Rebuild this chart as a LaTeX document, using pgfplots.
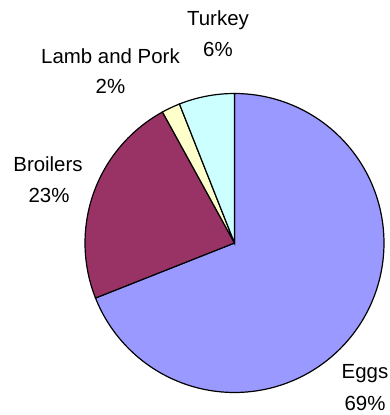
\documentclass[border=0pt]{standalone}
\usepackage{pgfplots}
\pgfplotsset{compat=1.18}
\usepackage{fontspec}
\setmainfont{Liberation Sans}
\definecolor{eggs}{HTML}{9999FF}
\definecolor{broilers}{HTML}{993366}
\definecolor{lamb}{HTML}{FFFFCC}
\definecolor{turkey}{HTML}{CCFFFF}
\newcommand{\cx}{234.5}
\newcommand{\cy}{172}
\newcommand{\rr}{149.5}
% shares: Eggs 69, Broilers 23, Lamb and Pork 2, Turkey 6 (clockwise from 12 o'clock)
\begin{document}
\begin{tikzpicture}[lbl/.style={font=\fontsize{20.5}{24}\selectfont, anchor=base, inner sep=0pt}]
\begin{axis}[
  width=390bp, height=415bp, scale only axis,
  xmin=0, xmax=390, ymin=0, ymax=415,
  hide axis, clip=false,
]
\addplot[draw=black, line width=1.2pt, fill=eggs, domain=-158.4:90, samples=150, variable=\t]
  ({\cx+\rr*cos(\t)},{\cy+\rr*sin(\t)}) -- (axis cs:\cx,\cy) -- cycle;
\addplot[draw=black, line width=1.2pt, fill=broilers, domain=118.8:201.6, samples=60, variable=\t]
  ({\cx+\rr*cos(\t)},{\cy+\rr*sin(\t)}) -- (axis cs:\cx,\cy) -- cycle;
\addplot[draw=black, line width=1.2pt, fill=lamb, domain=111.6:118.8, samples=10, variable=\t]
  ({\cx+\rr*cos(\t)},{\cy+\rr*sin(\t)}) -- (axis cs:\cx,\cy) -- cycle;
\addplot[draw=black, line width=1.2pt, fill=turkey, domain=90:111.6, samples=20, variable=\t]
  ({\cx+\rr*cos(\t)},{\cy+\rr*sin(\t)}) -- (axis cs:\cx,\cy) -- cycle;
\node[lbl] at (axis cs:218,389) {Turkey};
\node[lbl] at (axis cs:218,358) {6\%};
\node[lbl] at (axis cs:110.5,351) {Lamb and Pork};
\node[lbl] at (axis cs:110.5,321) {2\%};
\node[lbl] at (axis cs:48,243) {Broilers};
\node[lbl] at (axis cs:49,212) {23\%};
\node[lbl] at (axis cs:365,36) {Eggs};
\node[lbl] at (axis cs:365,5) {69\%};
\end{axis}
\pgfresetboundingbox
\path (0,0) rectangle (390bp,415bp);
\end{tikzpicture}
\end{document}
